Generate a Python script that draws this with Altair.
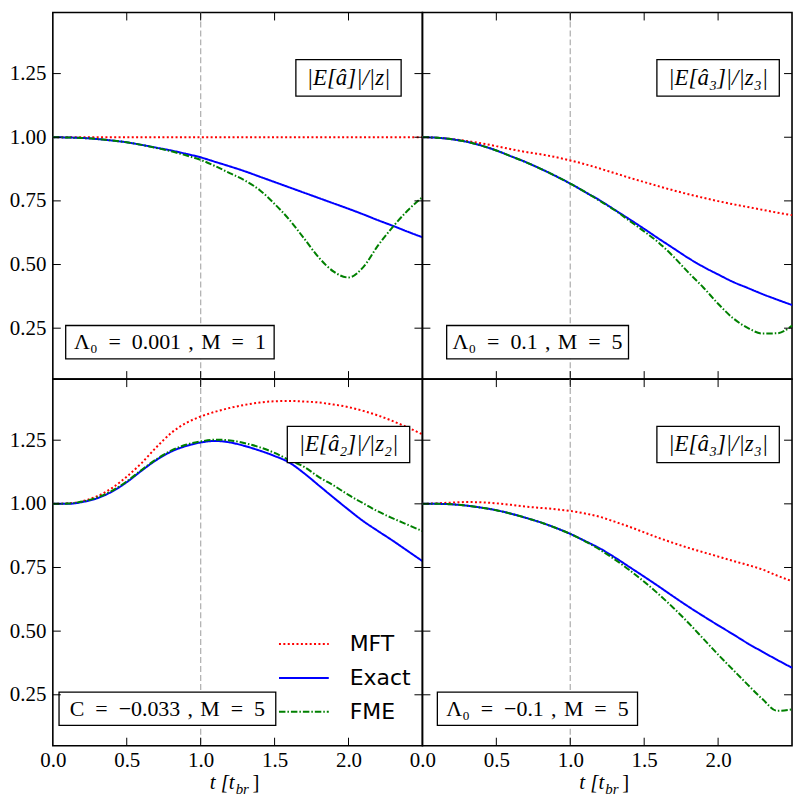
import altair as alt
import pandas as pd

# ---------------- data ----------------
T = [0.0, 0.1, 0.2, 0.3, 0.4, 0.5, 0.6, 0.7, 0.8, 0.9, 1.0, 1.1, 1.2,
     1.3, 1.4, 1.5, 1.6, 1.7, 1.8, 1.9, 2.0, 2.1, 2.2, 2.3, 2.4, 2.5]

# top-left panel
TL_MFT = [1.000, 1.000, 1.000, 1.000, 1.000, 1.000, 1.000, 1.000, 1.000, 1.000, 1.000, 1.000, 1.000,
          1.000, 1.000, 1.000, 1.000, 1.000, 1.000, 1.000, 1.000, 1.000, 1.000, 1.000, 1.000, 1.000]
TL_EXACT = [1.000, 0.999, 0.997, 0.993, 0.987, 0.980, 0.970, 0.959, 0.948, 0.935, 0.921, 0.903, 0.885,
            0.866, 0.845, 0.824, 0.803, 0.782, 0.761, 0.740, 0.719, 0.697, 0.674, 0.652, 0.629, 0.607]
TL_FME = [1.000, 0.999, 0.997, 0.993, 0.987, 0.980, 0.970, 0.958, 0.945, 0.929, 0.911, 0.886, 0.858,
          0.830, 0.792, 0.738, 0.676, 0.602, 0.527, 0.472, 0.449, 0.490, 0.575, 0.648, 0.712, 0.765]

# top-right panel
TR_MFT = [1.000, 0.998, 0.993, 0.985, 0.976, 0.965, 0.953, 0.942, 0.933, 0.922, 0.909, 0.894, 0.877,
          0.859, 0.841, 0.824, 0.807, 0.791, 0.776, 0.762, 0.749, 0.737, 0.726, 0.715, 0.704, 0.694]
TR_EXACT = [1.000, 0.998, 0.992, 0.982, 0.967, 0.948, 0.925, 0.902, 0.876, 0.848, 0.818, 0.785, 0.752,
            0.715, 0.678, 0.640, 0.601, 0.563, 0.525, 0.491, 0.461, 0.432, 0.408, 0.384, 0.362, 0.341]
TR_FME = [1.000, 0.998, 0.992, 0.982, 0.967, 0.948, 0.925, 0.902, 0.876, 0.848, 0.818, 0.785, 0.750,
          0.714, 0.672, 0.630, 0.585, 0.530, 0.468, 0.410, 0.346, 0.290, 0.251, 0.229, 0.230, 0.260]

# bottom-left panel
BL_MFT = [1.000, 1.002, 1.010, 1.030, 1.062, 1.107, 1.160, 1.222, 1.278, 1.317, 1.343, 1.362, 1.377,
          1.389, 1.398, 1.403, 1.404, 1.402, 1.398, 1.390, 1.380, 1.365, 1.347, 1.325, 1.300, 1.273]
BL_EXACT = [1.000, 1.000, 1.007, 1.022, 1.048, 1.085, 1.130, 1.172, 1.205, 1.227, 1.241, 1.247, 1.241,
            1.227, 1.209, 1.188, 1.162, 1.120, 1.072, 1.024, 0.977, 0.932, 0.893, 0.855, 0.815, 0.775]
BL_FME = [1.000, 1.001, 1.009, 1.025, 1.051, 1.088, 1.133, 1.175, 1.209, 1.232, 1.245, 1.252, 1.249,
          1.238, 1.222, 1.200, 1.172, 1.145, 1.105, 1.072, 1.035, 1.002, 0.970, 0.943, 0.918, 0.893]

# bottom-right panel
BR_MFT = [1.000, 1.002, 1.005, 1.007, 1.006, 1.002, 0.996, 0.989, 0.984, 0.979, 0.972, 0.962, 0.949,
          0.930, 0.910, 0.888, 0.866, 0.846, 0.827, 0.810, 0.793, 0.776, 0.760, 0.742, 0.718, 0.696]
BR_EXACT = [1.000, 1.000, 0.998, 0.993, 0.985, 0.975, 0.961, 0.945, 0.927, 0.906, 0.882, 0.854, 0.825,
            0.790, 0.752, 0.714, 0.675, 0.635, 0.596, 0.559, 0.523, 0.488, 0.452, 0.419, 0.387, 0.356]
BR_FME = [1.000, 1.000, 0.998, 0.993, 0.985, 0.975, 0.961, 0.945, 0.927, 0.906, 0.882, 0.853, 0.820,
          0.782, 0.740, 0.694, 0.644, 0.590, 0.532, 0.470, 0.408, 0.349, 0.290, 0.233, 0.187, 0.193]

SERIES = ["MFT", "Exact", "FME"]
X_LABELS = [0.0, 0.5, 1.0, 1.5, 2.0]
X_TICKS = [0.5, 1.0, 1.5, 2.0]
Y_TICKS = [0.25, 0.5, 0.75, 1.0, 1.25]
VLINE = [1.0]

TOP_TEXT = ["|E[â]|/|z|", "|E[â₃]|/|z₃|", "|E[â₂]|/|z₂|", "|E[â₃]|/|z₃|"]
EQ = "\u2002=\u2002"
CM = "\u2004,\u2004"
BOT_TEXT = ["Λ₀" + EQ + "0.001" + CM + "M" + EQ + "1",
            "Λ₀" + EQ + "0.1" + CM + "M" + EQ + "5",
            "C" + EQ + "−0.033" + CM + "M" + EQ + "5",
            "Λ₀" + EQ + "−0.1" + CM + "M" + EQ + "5"]

# ---------------- styling / layout ----------------
COLORS = ["#ff0000", "#0000ff", "#008000"]
DASHES = [[2, 2.4], [1, 0], [6.5, 2, 1.5, 2]]
W, H = 371, 368
XS = alt.Scale(domain=[0, 2.5], nice=False, zero=False)
YS = alt.Scale(domain=[0.05, 1.49], nice=False, zero=False)
SERIF = "Liberation Serif"
SANS = "DejaVu Sans"
TICK = 8

# annotation box geometry (data units)
TOP_CX, TOP_CY, TOP_HH = 2.0, 1.233, 0.0715
TOP_HW = [0.356, 0.414, 0.414, 0.414]
BOT_CX, BOT_CY, BOT_HH = [0.792, 0.779, 0.775, 0.778], 0.195, 0.0655
BOT_HW = [0.705, 0.615, 0.733, 0.677]


def panel(i, series, left, bottom, legend):
    xaxis = alt.Axis(values=X_LABELS, format=".1f", labelFlush=False, labelPadding=4,
                     title=None) if bottom else None
    yaxis = alt.Axis(values=Y_TICKS, format=".2f", labelPadding=7, title=None) if left else None

    def X(f):
        return alt.X(f, scale=XS, axis=xaxis)

    def Y(f):
        return alt.Y(f, scale=YS, axis=yaxis)

    layers = []
    layers.append(alt.Chart(pd.DataFrame({"t": VLINE})).mark_rule(
        color="#b3b3b3", strokeDash=[6, 3], strokeWidth=1.3).encode(x=X("t:Q")))
    for vals, color, dash in zip(series, COLORS, DASHES):
        df = pd.DataFrame({"t": T, "v": vals})
        layers.append(alt.Chart(df).mark_line(
            color=color, strokeDash=dash, strokeWidth=2, interpolate="monotone").encode(
            x=X("t:Q"), y=Y("v:Q")))
    # annotation boxes
    for cx, cy, hw, hh, text, italic in [
            (TOP_CX, TOP_CY, TOP_HW[i], TOP_HH, TOP_TEXT[i], True),
            (BOT_CX[i], BOT_CY, BOT_HW[i], BOT_HH, BOT_TEXT[i], False)]:
        d = pd.DataFrame({"t": [cx - hw], "t2": [cx + hw], "v": [cy - hh], "v2": [cy + hh]})
        layers.append(alt.Chart(d).mark_rect(fill="white", stroke="black", strokeWidth=1.3).encode(
            x=X("t:Q"), x2="t2:Q", y=Y("v:Q"), y2="v2:Q"))
        d2 = pd.DataFrame({"t": [cx], "v": [cy]})
        layers.append(alt.Chart(d2).mark_text(
            font=SERIF, fontSize=23 if italic else 22, fontStyle="italic" if italic else "normal",
            align="center", baseline="middle", color="black").encode(
            x=X("t:Q"), y=Y("v:Q"), text=alt.value(text)))
    # inward ticks on all four sides
    xt = pd.DataFrame({"t": X_TICKS})
    yt = pd.DataFrame({"v": Y_TICKS})
    for y0, y1 in [(0, TICK), (H, H - TICK)]:
        layers.append(alt.Chart(xt).mark_rule(color="black", strokeWidth=1).encode(
            x=X("t:Q"), y=alt.value(y0), y2=alt.value(y1)))
    for x0, x1 in [(0, TICK), (W, W - TICK)]:
        layers.append(alt.Chart(yt).mark_rule(color="black", strokeWidth=1).encode(
            y=Y("v:Q"), x=alt.value(x0), x2=alt.value(x1)))
    one = pd.DataFrame({"t": [1.25]})
    if legend:
        for k, (name, color, dash) in enumerate(zip(SERIES, COLORS, DASHES)):
            yy = 266 + 34 * k
            layers.append(alt.Chart(one).mark_rule(
                color=color, strokeDash=dash, strokeWidth=2).encode(
                x=alt.value(227), x2=alt.value(277), y=alt.value(yy)))
            layers.append(alt.Chart(one).mark_text(
                font=SANS, fontSize=22, align="left", baseline="middle", color="black").encode(
                x=alt.value(298), y=alt.value(yy), text=alt.value(name)))
    if bottom:
        base = alt.Chart(one)
        layers.append(base.mark_text(font=SERIF, fontSize=21, fontStyle="italic", align="right",
                                     baseline="alphabetic", dx=-3, color="black").encode(
            x=X("t:Q"), y=alt.value(H + 43), text=alt.value("t [t")))
        layers.append(base.mark_text(font=SERIF, fontSize=15, fontStyle="italic", align="left",
                                     baseline="alphabetic", dx=-2, dy=5, color="black").encode(
            x=X("t:Q"), y=alt.value(H + 43), text=alt.value("br")))
        layers.append(base.mark_text(font=SERIF, fontSize=21, align="left",
                                     baseline="alphabetic", dx=15, color="black").encode(
            x=X("t:Q"), y=alt.value(H + 43), text=alt.value("]")))
    return alt.layer(*layers).properties(width=W, height=H)


TL = panel(0, [TL_MFT, TL_EXACT, TL_FME], True, False, False)
TR = panel(1, [TR_MFT, TR_EXACT, TR_FME], False, False, False)
BL = panel(2, [BL_MFT, BL_EXACT, BL_FME], True, True, True)
BR = panel(3, [BR_MFT, BR_EXACT, BR_FME], False, True, False)

chart = alt.concat(TL, TR, BL, BR, columns=2, spacing=0, bounds="flush").properties(
    padding={"left": 0, "top": 1, "right": 0, "bottom": 0}, background="white"
).configure_view(stroke="black", strokeWidth=1.6).configure_axis(
    labelFont=SERIF, labelFontSize=21, labelColor="black", grid=False, ticks=False, domain=False)

chart.save("out.html", embed_options={"renderer": "svg", "actions": False})
